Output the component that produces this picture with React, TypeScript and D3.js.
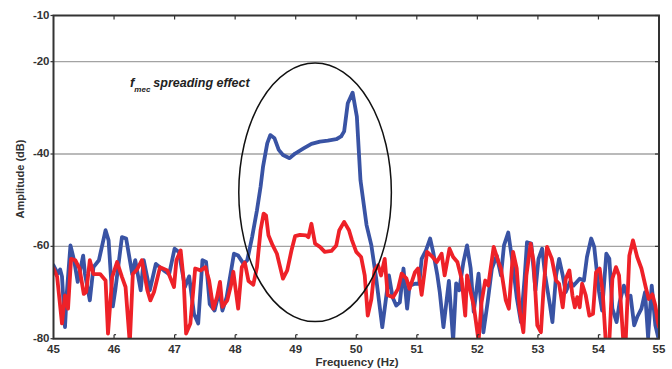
import React from 'react';
import * as d3 from 'd3';

// frequency (Hz) / amplitude (dB)
const blueFreq = [
  45.0, 45.07, 45.11, 45.14, 45.19, 45.22, 45.28, 45.34, 45.4, 45.49, 45.52, 45.6, 45.66, 45.75, 45.86, 45.91,
  45.98, 46.02, 46.13, 46.2, 46.3, 46.35, 46.44, 46.49, 46.59, 46.69, 46.82, 46.91, 47.0, 47.07, 47.17, 47.24,
  47.32, 47.39, 47.46, 47.52, 47.58, 47.66, 47.74, 47.79, 47.86, 47.98, 48.05, 48.14, 48.2, 48.28, 48.36, 48.42,
  48.46, 48.53, 48.58, 48.65, 48.72, 48.79, 48.9, 48.99, 49.13, 49.26, 49.4, 49.53, 49.67, 49.75, 49.8, 49.86,
  49.94, 50.01, 50.07, 50.17, 50.25, 50.33, 50.43, 50.49, 50.54, 50.6, 50.66, 50.72, 50.78, 50.84, 50.88, 50.97,
  51.04, 51.08, 51.15, 51.22, 51.27, 51.34, 51.38, 51.44, 51.53, 51.6, 51.65, 51.7, 51.77, 51.83, 51.89, 51.94,
  52.02, 52.1, 52.17, 52.24, 52.32, 52.39, 52.44, 52.51, 52.58, 52.65, 52.72, 52.78, 52.82, 52.89, 52.96, 53.01,
  53.07, 53.12, 53.2, 53.24, 53.3, 53.35, 53.41, 53.46, 53.53, 53.59, 53.69, 53.76, 53.81, 53.88, 53.93, 54.01,
  54.06, 54.13, 54.18, 54.23, 54.3, 54.35, 54.42, 54.48, 54.53, 54.59, 54.64, 54.71, 54.77, 54.82, 54.88, 54.94,
  54.98, 55.0
];
const blueDb = [
  -64.1, -65.9, -65.0, -66.5, -77.5, -70.0, -59.8, -63.0, -67.7, -62.0, -66.0, -71.7, -64.5, -63.0, -56.5, -58.7,
  -73.0, -69.5, -58.0, -58.3, -66.0, -63.0, -69.5, -63.0, -69.5, -63.8, -65.2, -66.0, -60.5, -61.2, -68.8, -66.5,
  -74.6, -76.7, -63.0, -63.4, -72.5, -73.9, -69.6, -73.9, -71.0, -61.6, -62.0, -63.8, -63.0, -58.0, -52.2, -47.1,
  -42.8, -37.7, -35.9, -36.6, -39.1, -40.2, -40.9, -39.9, -38.8, -37.8, -37.3, -37.1, -36.8, -36.2, -35.1, -29.0,
  -26.7, -31.9, -45.7, -55.4, -59.8, -67.0, -77.5, -71.4, -66.3, -71.0, -72.8, -72.1, -64.8, -73.5, -68.5, -68.1,
  -68.1, -62.7, -60.9, -58.3, -61.2, -66.3, -70.0, -77.5, -67.5, -80.5, -68.0, -69.5, -63.4, -59.8, -64.8, -74.2,
  -65.9, -78.6, -72.1, -64.8, -62.0, -66.3, -59.8, -57.0, -63.4, -71.0, -76.4, -67.0, -59.1, -59.4, -69.5, -62.7,
  -60.5, -66.3, -72.8, -76.4, -66.3, -62.7, -66.3, -69.9, -67.7, -68.5, -67.0, -67.4, -62.3, -58.3, -60.1, -69.9,
  -73.9, -61.6, -62.7, -73.5, -76.4, -72.1, -68.5, -71.0, -70.7, -77.1, -75.3, -73.5, -69.9, -79.7, -68.5, -77.1,
  -79.3, -80.5
];

const redFreq = [
  45.0, 45.06, 45.14, 45.19, 45.24, 45.29, 45.36, 45.43, 45.5, 45.54, 45.6, 45.66, 45.77, 45.86, 45.9, 45.97,
  46.05, 46.13, 46.19, 46.26, 46.31, 46.38, 46.46, 46.55, 46.6, 46.66, 46.76, 46.88, 46.99, 47.03, 47.1, 47.15,
  47.19, 47.26, 47.34, 47.43, 47.51, 47.57, 47.64, 47.7, 47.75, 47.79, 47.87, 47.93, 47.97, 48.05, 48.11, 48.16,
  48.22, 48.3, 48.36, 48.42, 48.47, 48.51, 48.55, 48.62, 48.69, 48.73, 48.79, 48.86, 48.93, 48.99, 49.07, 49.17,
  49.21, 49.26, 49.32, 49.4, 49.48, 49.59, 49.67, 49.72, 49.8, 49.88, 49.93, 50.0, 50.08, 50.14, 50.19, 50.25,
  50.3, 50.36, 50.41, 50.47, 50.52, 50.61, 50.69, 50.75, 50.83, 50.88, 50.97, 51.02, 51.08, 51.17, 51.26, 51.33,
  51.41, 51.46, 51.54, 51.6, 51.67, 51.74, 51.8, 51.83, 51.89, 51.94, 52.02, 52.07, 52.13, 52.18, 52.27, 52.35,
  52.39, 52.47, 52.52, 52.59, 52.65, 52.7, 52.76, 52.81, 52.88, 52.93, 52.99, 53.05, 53.09, 53.15, 53.23, 53.3,
  53.35, 53.41, 53.46, 53.52, 53.57, 53.61, 53.65, 53.69, 53.73, 53.79, 53.85, 53.91, 53.96, 54.02, 54.07, 54.12,
  54.18, 54.23, 54.29, 54.34, 54.41, 54.45, 54.51, 54.57, 54.64, 54.71, 54.78, 54.83, 54.89, 54.94, 54.98, 55.0
];
const redDb = [
  -64.8, -66.6, -76.7, -70.6, -73.5, -62.7, -63.0, -64.8, -70.3, -69.9, -63.0, -66.0, -66.0, -67.4, -78.9, -66.6,
  -63.4, -66.6, -68.8, -81.0, -66.0, -65.0, -63.0, -69.5, -71.7, -69.9, -64.5, -65.2, -68.8, -63.0, -60.9, -67.4,
  -78.9, -76.7, -64.8, -65.2, -64.5, -67.4, -73.5, -71.0, -67.7, -73.1, -71.7, -68.5, -65.5, -73.5, -64.5, -63.5,
  -67.5, -68.3, -64.5, -56.5, -52.9, -53.3, -57.6, -59.8, -61.6, -63.8, -67.0, -65.2, -60.9, -57.8, -57.5, -57.6,
  -58.0, -55.1, -59.4, -60.1, -61.2, -61.0, -59.8, -56.5, -54.7, -56.5, -58.7, -61.2, -62.3, -66.3, -75.0, -71.4,
  -65.2, -64.1, -66.3, -62.7, -70.6, -71.0, -69.2, -65.9, -67.0, -69.2, -65.6, -64.8, -70.5, -61.2, -62.3, -63.4,
  -61.6, -66.3, -60.5, -62.3, -63.4, -67.0, -75.0, -66.3, -70.0, -72.8, -80.5, -72.1, -67.4, -68.5, -60.1, -63.4,
  -64.8, -71.7, -73.5, -61.2, -64.8, -73.9, -78.6, -66.3, -59.4, -63.4, -77.1, -78.6, -69.9, -60.1, -62.7, -67.4,
  -68.1, -73.2, -67.0, -65.2, -70.6, -73.2, -71.0, -73.2, -68.1, -70.6, -75.0, -74.6, -65.6, -64.8, -69.9, -80.5,
  -80.5, -67.0, -64.5, -66.3, -80.5, -80.5, -62.0, -58.7, -62.3, -64.8, -68.8, -71.4, -70.4, -72.8, -76.4, -77.5
];

const xTicks = [45, 46, 47, 48, 49, 50, 51, 52, 53, 54, 55];
const yTicks = [-10, -20, -40, -60, -80];
const gridLines = [-20, -40, -60];

// circled region (centre and half-widths in data units)
const ellipseCenter = [49.32, -48.3];
const ellipseRadius = [1.26, 28];

const W = 672;
const H = 369;
const font = "'Liberation Sans', Arial, sans-serif";

export default function App() {
  const x = d3.scaleLinear().domain([45, 55]).range([53.5, 659]);
  const y = d3.scaleLinear().domain([-80, -10]).range([338.7, 15.5]);
  const [x0, x1] = x.range();
  const [y0, y1] = y.range();

  const line = d3.line<number>()
    .x(d => x(d))
    .curve(d3.curveLinear);

  const bluePath = line.y((_, i) => y(blueDb[i]))(blueFreq) || '';
  const redPath = line.y((_, i) => y(redDb[i]))(redFreq) || '';

  const cx = x(ellipseCenter[0]);
  const cy = y(ellipseCenter[1]);
  const rx = x(ellipseCenter[0] + ellipseRadius[0]) - cx;
  const ry = cy - y(ellipseCenter[1] + ellipseRadius[1]);

  return (
    <svg width={W} height={H} style={{ position: 'absolute', left: 0, top: 0, background: '#fff' }}>
      <defs>
        <clipPath id="plot">
          <rect x={x0} y={y1} width={x1 - x0} height={y0 - y1} />
        </clipPath>
      </defs>

      {gridLines.map(v => (
        <line key={v} x1={x0} x2={x1} y1={y(v)} y2={y(v)} stroke="#a3a3a3" strokeWidth={1.4} />
      ))}

      <g clipPath="url(#plot)" fill="none" strokeWidth={3.8} strokeLinejoin="round" strokeLinecap="round">
        <path d={bluePath} stroke="#3953a4" />
        <path d={redPath} stroke="#ee2128" />
      </g>

      <ellipse cx={cx} cy={cy} rx={rx} ry={ry} fill="none" stroke="#111" strokeWidth={1.5} />

      {/* frame */}
      <rect x={x0} y={y1} width={x1 - x0} height={y0 - y1} fill="none" stroke="#333" strokeWidth={2} />

      {xTicks.slice(1, -1).map(v => (
        <g key={v} stroke="#333" strokeWidth={1.2}>
          <line x1={x(v)} x2={x(v)} y1={y0} y2={y0 - 4} />
          <line x1={x(v)} x2={x(v) + 2} y1={y0 - 4} y2={y0 - 4} />
          <line x1={x(v)} x2={x(v)} y1={y1} y2={y1 + 4} />
        </g>
      ))}
      {yTicks.map(v => (
        <g key={v} stroke="#333" strokeWidth={1.2}>
          <line x1={x0 - 3} x2={x0} y1={y(v)} y2={y(v)} />
          <line x1={x1} x2={x1 - 4} y1={y(v)} y2={y(v)} />
        </g>
      ))}

      <g fontFamily={font} fontWeight="bold" fontSize={11.5} fill="#333">
        {yTicks.map(v => (
          <text key={v} x={x0 - 4} y={y(v)} textAnchor="end" dominantBaseline="middle">{v}</text>
        ))}
        {xTicks.map(v => (
          <text key={v} x={x(v)} y={353} textAnchor="middle">{v}</text>
        ))}
        <text x={357} y={366} textAnchor="middle" fontSize={11.5}>Frequency (Hz)</text>
        <text transform={`translate(24,179) rotate(-90)`} textAnchor="middle" fontSize={11}>Amplitude (dB)</text>
      </g>

      <text x={130} y={87} fontFamily={font} fontWeight="bold" fontStyle="italic" fontSize={13} fill="#222">
        f
        <tspan fontSize={8} dy={5}>mec</tspan>
        <tspan fontSize={12.5} dy={-5} dx={3}>spreading effect</tspan>
      </text>
    </svg>
  );
}
